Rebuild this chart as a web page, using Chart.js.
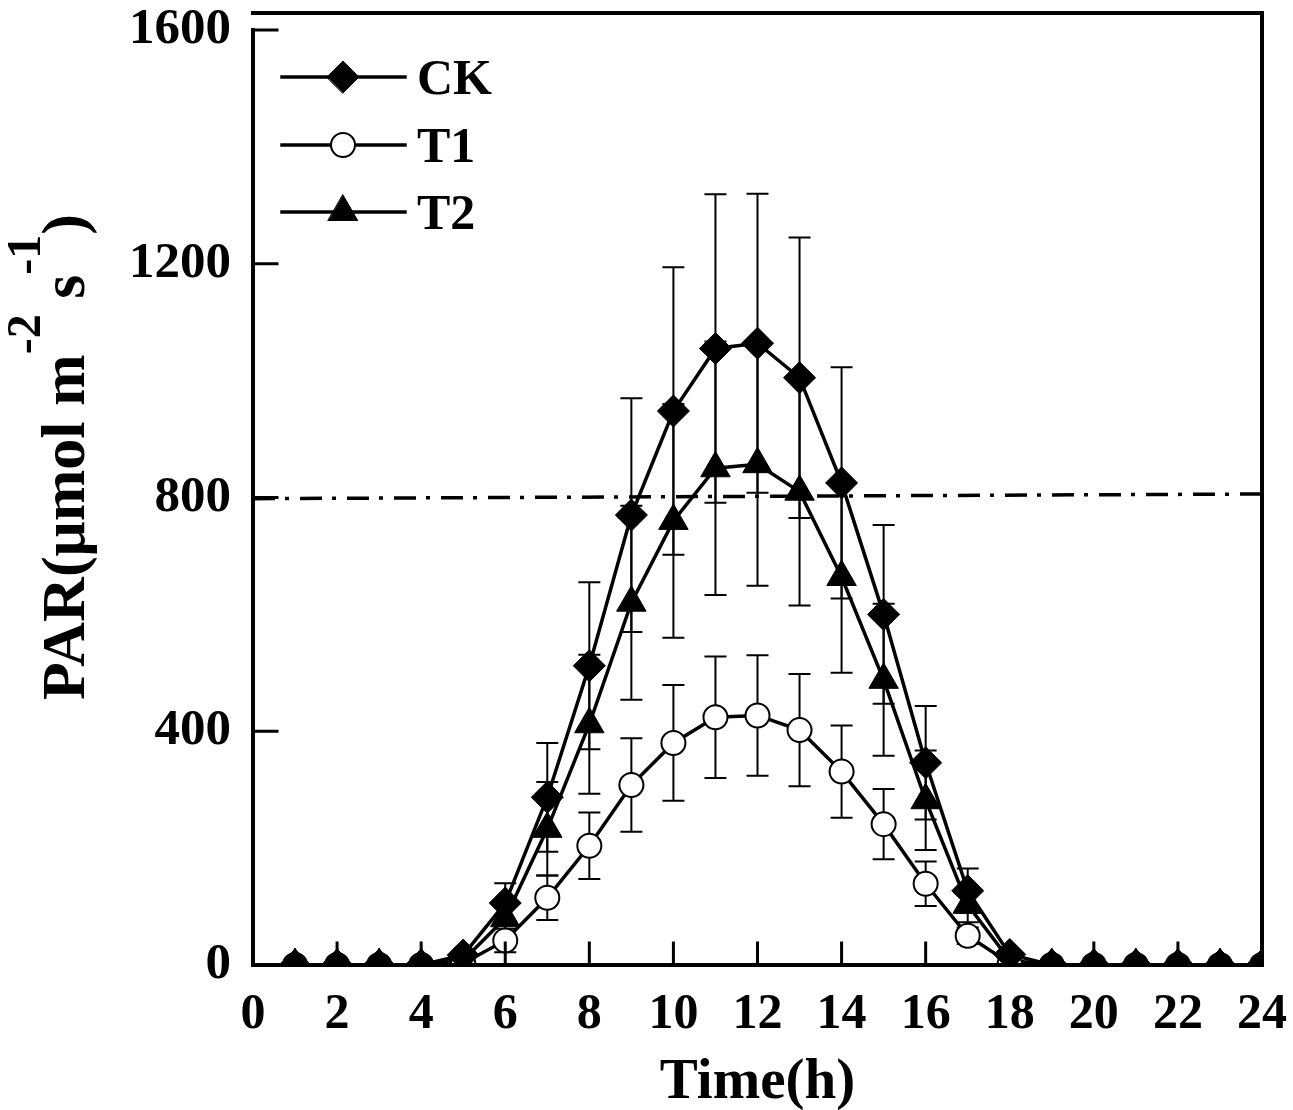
<!DOCTYPE html>
<html lang="en">
<head>
<meta charset="UTF-8">
<title>PAR diurnal course</title>
<script src="https://cdn.jsdelivr.net/npm/chart.js"></script>
<style>
    body { margin: 0; background: #fff; }
    #wrap { width: 1293px; height: 1110px; position: relative; }
</style>
</head>
<body>
<div id="wrap"><canvas id="parChart"></canvas></div>
<script>
// values (hour 1..24)
const hours = [1, 2, 3, 4, 5, 6, 7, 8, 9, 10, 11, 12, 13, 14, 15, 16, 17, 18, 19, 20, 21, 22, 23, 24];
const ck    = [0, 0, 0, 0, 17, 106, 287, 512, 770, 948, 1055, 1064, 1005, 825, 600, 346, 127, 18, 0, 0, 0, 0, 0, 0];
const ckErr = [0, 0, 0, 0, 5, 34, 93, 143, 200, 246, 264, 256, 240, 198, 153, 97, 38, 5, 0, 0, 0, 0, 0, 0];
const t1    = [0, 0, 0, 0, 3, 42, 115, 204, 308, 380, 424, 427, 402, 331, 241, 139, 50, 3, 0, 0, 0, 0, 0, 0];
const t1Err = [0, 0, 0, 0, 2, 20, 38, 57, 80, 99, 104, 103, 96, 79, 60, 38, 14, 2, 0, 0, 0, 0, 0, 0];
const t2    = [0, 0, 0, 0, 8, 80, 233, 412, 620, 760, 850, 857, 810, 664, 488, 282, 103, 8, 0, 0, 0, 0, 0, 0];
const t2Err = [0, 0, 0, 0, 3, 30, 80, 119, 166, 200, 217, 208, 195, 164, 130, 85, 30, 3, 0, 0, 0, 0, 0, 0];
// dash-dot reference line, value at 0 h and at 24 h
const refX = [0, 24];
const refY = [798, 806];
const xTicks = [0, 2, 4, 6, 8, 10, 12, 14, 16, 18, 20, 22, 24];
const yTicks = [0, 400, 800, 1200, 1600];

const FONT = "'Liberation Serif', 'Times New Roman', serif";
Chart.defaults.font.family = FONT;
Chart.defaults.font.weight = 'bold';
Chart.defaults.color = '#000';

function pts(vals) {
    return vals.map((v, i) => ({ x: hours[i], y: v }));
}

// vertical error bars with caps, drawn under the markers
const errorBars = {
    id: 'errorBars',
    beforeDatasetsDraw(chart) {
        const { ctx, chartArea: a, scales: { x, y } } = chart;
        ctx.save();
        ctx.beginPath();
        ctx.rect(a.left, a.top, a.right - a.left, a.bottom - a.top);
        ctx.clip();
        ctx.strokeStyle = '#000';
        ctx.lineWidth = 2;
        chart.data.datasets.forEach(ds => {
            if (!ds.err) return;
            ds.data.forEach((p, i) => {
                const e = ds.err[i];
                if (!e) return;
                const px = x.getPixelForValue(p.x);
                const top = y.getPixelForValue(p.y + e);
                const bot = y.getPixelForValue(p.y - e);
                ctx.beginPath();
                ctx.moveTo(px, top); ctx.lineTo(px, bot);
                ctx.moveTo(px - 11, top); ctx.lineTo(px + 11, top);
                ctx.moveTo(px - 11, bot); ctx.lineTo(px + 11, bot);
                ctx.stroke();
            });
        });
        ctx.restore();
    }
};

// frame, inward ticks, rotated y title with superscripts, legend
const decor = {
    id: 'decor',
    afterDraw(chart) {
        const { ctx, chartArea: a, scales: { x, y } } = chart;
        const frameTop = a.top - 17;
        ctx.save();
        ctx.strokeStyle = '#000';
        ctx.lineCap = 'square';

        // ticks
        ctx.lineWidth = 3;
        ctx.beginPath();
        xTicks.forEach(v => {
            if (v === 0 || v === 24) return;
            const px = x.getPixelForValue(v);
            ctx.moveTo(px, a.bottom); ctx.lineTo(px, a.bottom - 22);
        });
        yTicks.forEach(v => {
            if (v === 0) return;
            const py = y.getPixelForValue(v);
            ctx.moveTo(a.left, py); ctx.lineTo(a.left + 24, py);
        });
        ctx.stroke();

        // axes and box
        ctx.lineWidth = 4;
        ctx.beginPath();
        ctx.moveTo(a.left, a.top); ctx.lineTo(a.left, a.bottom); ctx.lineTo(a.right, a.bottom);
        ctx.lineTo(a.right, frameTop); ctx.lineTo(a.left, frameTop);
        ctx.stroke();

        // y axis title
        ctx.fillStyle = '#000';
        ctx.textBaseline = 'alphabetic';
        ctx.textAlign = 'left';
        const parts = [['PAR(\u03bcmol m', 62, 0], ['-2', 48, 44], [' s', 62, 0], ['-1', 48, 44], [')', 62, 0]];
        let total = 0;
        parts.forEach(p => { ctx.font = 'bold ' + p[1] + 'px ' + FONT; p.push(ctx.measureText(p[0]).width); total += p[3]; });
        ctx.save();
        ctx.translate(84, 457);
        ctx.rotate(-Math.PI / 2);
        let cx = -total / 2;
        parts.forEach(p => {
            ctx.font = 'bold ' + p[1] + 'px ' + FONT;
            ctx.fillText(p[0], cx, -p[2]);
            cx += p[3];
        });
        ctx.restore();

        // legend
        const rows = [77, 145, 212];
        chart.data.datasets.slice(0, 3).forEach((ds, i) => {
            const ly = rows[i];
            ctx.lineWidth = 3.5;
            ctx.beginPath();
            ctx.moveTo(282, ly); ctx.lineTo(405, ly);
            ctx.stroke();
            ctx.fillStyle = ds.pointBackgroundColor;
            ctx.strokeStyle = '#000';
            ctx.lineWidth = ds.pointBorderWidth;
            Chart.helpers.drawPoint(ctx, {
                pointStyle: ds.pointStyle, radius: ds.pointRadius, rotation: 0, borderWidth: ds.pointBorderWidth
            }, 343, ly);
            ctx.fillStyle = '#000';
            ctx.font = 'bold 50px ' + FONT;
            ctx.fillText(ds.label, 417, ly + 17);
        });
        ctx.restore();
    }
};

const series = (label, vals, err, style, radius, fill, bw) => ({
    label: label,
    data: pts(vals),
    err: err,
    borderColor: '#000',
    borderWidth: 3.5,
    pointStyle: style,
    pointRadius: radius,
    pointBackgroundColor: fill,
    pointBorderColor: '#000',
    pointBorderWidth: bw,
    tension: 0
});

new Chart(document.getElementById('parChart'), {
    type: 'line',
    data: {
        datasets: [
            series('CK', ck, ckErr, 'rectRot', 16, '#000', 1),
            series('T1', t1, t1Err, 'circle', 12, '#fff', 2),
            series('T2', t2, t2Err, 'triangle', 17, '#000', 1),
            {
                label: 'ref',
                data: refX.map((v, i) => ({ x: v, y: refY[i] })),
                borderColor: '#000',
                borderWidth: 3.5,
                borderDash: [22, 10, 4, 11],
                pointRadius: 0
            }
        ]
    },
    options: {
        responsive: true,
        maintainAspectRatio: false,
        animation: false,
        layout: { padding: { top: 30, right: 31, left: 0, bottom: 0 } },
        plugins: { legend: { display: false }, tooltip: { enabled: false } },
        scales: {
            x: {
                type: 'linear',
                min: 0,
                max: 24,
                grid: { display: false },
                border: { display: false },
                afterBuildTicks: s => { s.ticks = xTicks.map(v => ({ value: v })); },
                afterFit: s => { s.height = 145; s.paddingLeft = 0; s.paddingRight = 0; },
                ticks: { font: { size: 50, weight: 'bold' }, color: '#000', padding: 12, maxRotation: 0, autoSkip: false,
                         callback: v => String(v) },
                title: { display: true, text: 'Time(h)', font: { size: 57, weight: 'bold' }, color: '#000', padding: { top: 0, bottom: -7 } }
            },
            y: {
                min: 0,
                max: 1600,
                grid: { display: false },
                border: { display: false },
                afterBuildTicks: s => { s.ticks = yTicks.map(v => ({ value: v })); },
                afterFit: s => { s.width = 253; s.paddingTop = 0; s.paddingBottom = 0; },
                ticks: { font: { size: 51, weight: 'bold' }, color: '#000', padding: 14, callback: v => String(v) }
            }
        }
    },
    plugins: [errorBars, decor]
});
</script>
</body>
</html>
